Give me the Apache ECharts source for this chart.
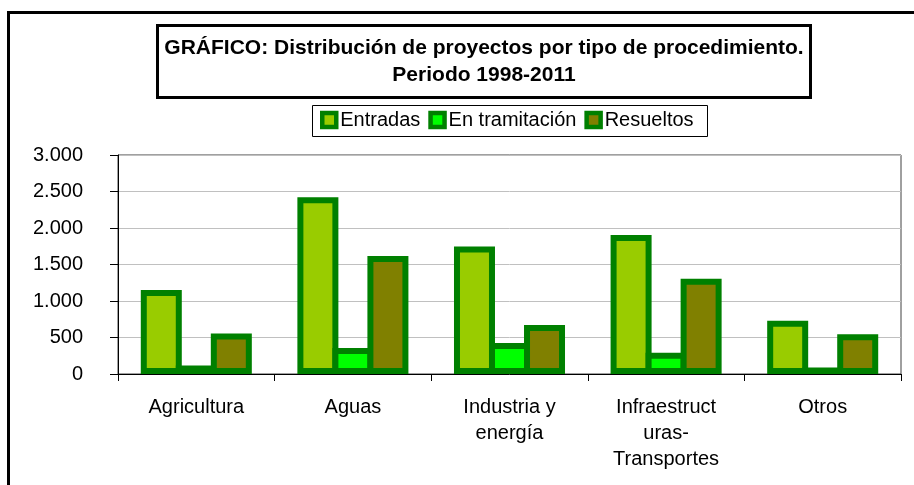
<!DOCTYPE html>
<html>
<head>
<meta charset="utf-8">
<script src="https://cdn.jsdelivr.net/npm/echarts@6/dist/echarts.min.js"></script>
<style>
  html, body { margin: 0; padding: 0; background: #fff; }
  #chart { width: 914px; height: 485px; }
</style>
</head>
<body>
<div id="chart"></div>
<script>
'use strict';

var categories = ['Agricultura', 'Aguas', 'Industria y\nenergía', 'Infraestruct\nuras-\nTransportes', 'Otros'];
var entradas = [1150, 2420, 1745, 1905, 730];
var tramitacion = [115, 355, 425, 290, 90];
var resueltos = [555, 1615, 670, 1305, 545];
var titleLines = ['GRÁFICO: Distribución de proyectos por tipo de procedimiento.', 'Periodo 1998-2011'];

var FONT = '"Liberation Sans", Arial, sans-serif';
var BORDER = '#008000';

function makeSeries(name, data, fill) {
    return {
        name: name,
        type: 'bar',
        data: data,
        barWidth: 41,
        barGap: '-14.6%',
        itemStyle: {
            color: fill,
            borderColor: BORDER,
            borderWidth: 6,
            borderJoin: 'miter'
        },
        emphasis: { disabled: true },
        animation: false
    };
}

var my_chart = echarts.init(document.getElementById('chart'));
my_chart.setOption({
    backgroundColor: '#fff',
    animation: false,
    textStyle: { fontFamily: FONT },
    grid: {
        left: 118,
        right: 13,
        top: 155,
        bottom: 111,
        show: true,
        borderColor: '#404040',
        borderWidth: 1
    },
    legend: {
        data: ['Entradas', 'En tramitación', 'Resueltos'],
        icon: 'rect',
        left: 320,
        top: 110,
        padding: 0,
        itemWidth: 14,
        itemHeight: 14,
        itemGap: 8,
        itemStyle: { borderWidth: 4.5, borderColor: BORDER },
        textStyle: { fontSize: 20, lineHeight: 20, color: '#000', fontFamily: FONT, padding: [0, 0, 0, -1] },
        selectedMode: false
    },
    xAxis: {
        type: 'category',
        data: categories,
        axisLine: { lineStyle: { color: '#000', width: 1 } },
        axisTick: { show: true, length: 7, lineStyle: { color: '#000' } },
        axisLabel: {
            interval: 0,
            fontSize: 20,
            lineHeight: 26,
            color: '#000',
            margin: 20,
            fontFamily: FONT
        },
        splitLine: { show: false }
    },
    yAxis: {
        type: 'value',
        min: 0,
        max: 3000,
        interval: 500,
        axisLine: { show: true, lineStyle: { color: '#000', width: 1 } },
        axisTick: { show: true, length: 8, lineStyle: { color: '#000' } },
        axisLabel: {
            fontSize: 20,
            color: '#000',
            margin: 35,
            fontFamily: FONT,
            formatter: function (v) {
                return String(v).replace(/\B(?=(\d{3})+(?!\d))/g, '.');
            }
        },
        splitLine: { show: true, lineStyle: { color: '#c0c0c0', width: 1 } }
    },
    graphic: [
        {   // chart area frame
            type: 'rect',
            shape: { x: 8.5, y: 12.5, width: 1000, height: 600 },
            style: { fill: null, stroke: '#000', lineWidth: 3 },
            silent: true
        },
        {   // title box
            type: 'rect',
            shape: { x: 157.5, y: 25.5, width: 653, height: 72 },
            style: { fill: '#fff', stroke: '#000', lineWidth: 3 },
            silent: true
        },
        {
            type: 'text',
            style: {
                text: titleLines.join('\n'),
                x: 484,
                y: 34.5,
                textAlign: 'center',
                fontSize: 21,
                fontWeight: 'bold',
                lineHeight: 27,
                fontFamily: FONT,
                fill: '#000'
            },
            silent: true
        },
        {   // legend box
            type: 'rect',
            shape: { x: 312.5, y: 105.5, width: 395, height: 31 },
            style: { fill: null, stroke: '#000', lineWidth: 1 },
            silent: true,
            z: -1
        }
    ],
    series: [
        makeSeries('Entradas', entradas, '#99cc00'),
        makeSeries('En tramitación', tramitacion, '#00ff00'),
        makeSeries('Resueltos', resueltos, '#808000')
    ]
});
</script>
</body>
</html>
